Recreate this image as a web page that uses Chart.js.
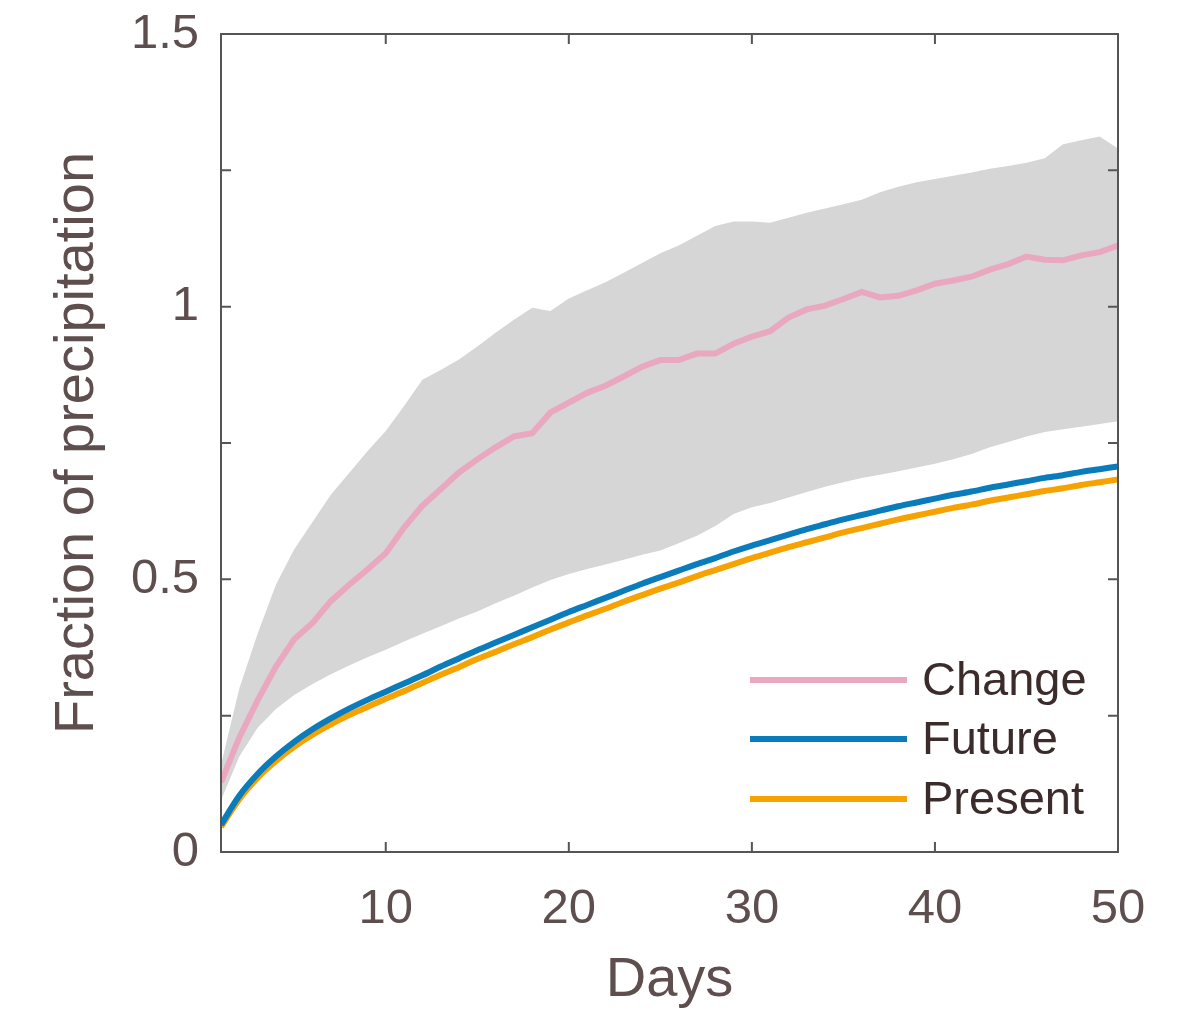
<!DOCTYPE html>
<html>
<head>
<meta charset="utf-8">
<script src="https://cdn.jsdelivr.net/npm/chart.js@4.4.1/dist/chart.umd.min.js"></script>
<style>
  html, body { margin: 0; padding: 0; background: #fff; }
  #wrap { width: 1185px; height: 1014px; }
</style>
</head>
<body>
<div id="wrap"><canvas id="precipChart" width="1185" height="1014"></canvas></div>
<script>
// days after the event
const days = [1, 2, 3, 4, 5, 6, 7, 8, 9, 10, 11, 12, 13, 14, 15, 16, 17, 18, 19, 20,
  21, 22, 23, 24, 25, 26, 27, 28, 29, 30, 31, 32, 33, 34, 35, 36, 37, 38, 39, 40,
  41, 42, 43, 44, 45, 46, 47, 48, 49, 50];

const changeValues = [0.128, 0.210, 0.278, 0.340, 0.390, 0.420, 0.460, 0.490, 0.518, 0.548,
  0.595, 0.635, 0.665, 0.696, 0.720, 0.742, 0.762, 0.768, 0.806, 0.824,
  0.842, 0.855, 0.872, 0.890, 0.902, 0.902, 0.914, 0.914, 0.932, 0.945,
  0.955, 0.980, 0.995, 1.002, 1.014, 1.027, 1.017, 1.020, 1.030, 1.042,
  1.048, 1.055, 1.068, 1.078, 1.092, 1.086, 1.085, 1.094, 1.100, 1.112];

const changeUpper = [0.160, 0.300, 0.400, 0.490, 0.555, 0.605, 0.655, 0.695, 0.735, 0.772,
  0.818, 0.866, 0.884, 0.903, 0.927, 0.952, 0.976, 0.998, 0.992, 1.015,
  1.030, 1.045, 1.062, 1.080, 1.098, 1.112, 1.130, 1.148, 1.156, 1.156,
  1.154, 1.163, 1.172, 1.180, 1.188, 1.196, 1.210, 1.220, 1.228, 1.234,
  1.240, 1.246, 1.253, 1.258, 1.264, 1.272, 1.298, 1.305, 1.312, 1.290];

const changeLower = [0.095, 0.175, 0.228, 0.262, 0.288, 0.308, 0.326, 0.342, 0.357, 0.371,
  0.386, 0.400, 0.414, 0.428, 0.441, 0.456, 0.470, 0.485, 0.499, 0.510,
  0.519, 0.527, 0.536, 0.545, 0.553, 0.566, 0.580, 0.598, 0.620, 0.632,
  0.640, 0.650, 0.660, 0.670, 0.678, 0.686, 0.692, 0.698, 0.705, 0.712,
  0.720, 0.730, 0.742, 0.752, 0.762, 0.770, 0.775, 0.780, 0.785, 0.790];

const futureValues = [0.050, 0.103, 0.143, 0.175, 0.202, 0.225, 0.245, 0.263, 0.279, 0.294,
  0.309, 0.324, 0.340, 0.355, 0.370, 0.384, 0.398, 0.412, 0.426, 0.440,
  0.453, 0.466, 0.479, 0.492, 0.504, 0.516, 0.528, 0.539, 0.551, 0.562,
  0.572, 0.582, 0.592, 0.601, 0.610, 0.618, 0.626, 0.634, 0.641, 0.648,
  0.655, 0.661, 0.668, 0.674, 0.680, 0.686, 0.691, 0.697, 0.702, 0.707];

const presentValues = [0.046, 0.097, 0.136, 0.167, 0.193, 0.215, 0.234, 0.251, 0.266, 0.281,
  0.295, 0.310, 0.325, 0.339, 0.354, 0.367, 0.381, 0.394, 0.408, 0.421,
  0.434, 0.446, 0.459, 0.471, 0.483, 0.494, 0.506, 0.517, 0.528, 0.539,
  0.549, 0.559, 0.568, 0.577, 0.586, 0.594, 0.602, 0.610, 0.617, 0.624,
  0.631, 0.637, 0.644, 0.650, 0.656, 0.662, 0.667, 0.673, 0.678, 0.683];

const xTicks = [10, 20, 30, 40, 50];
const yTicks = [0, 0.25, 0.5, 0.75, 1, 1.25, 1.5];
const yTickLabels = ['0', '', '0.5', '', '1', '', '1.5'];

const FONT = "'Liberation Sans', Arial, Helvetica, sans-serif";
const textColor = '#5e4e4e';
const axisColor = '#555555';

function pts(values) {
  return days.map((d, i) => ({ x: d, y: values[i] }));
}

// box around the plot with ticks pointing inwards on all four sides
const boxTicks = {
  id: 'boxTicks',
  afterDatasetsDraw(chart) {
    const { ctx, chartArea: a, scales: { x, y } } = chart;
    const len = 10;
    ctx.save();
    ctx.strokeStyle = axisColor;
    ctx.lineWidth = 2;
    ctx.beginPath();
    x.ticks.forEach(t => {
      const px = x.getPixelForValue(t.value);
      ctx.moveTo(px, a.bottom); ctx.lineTo(px, a.bottom - len);
      ctx.moveTo(px, a.top); ctx.lineTo(px, a.top + len);
    });
    y.ticks.forEach(t => {
      const py = y.getPixelForValue(t.value);
      ctx.moveTo(a.left, py); ctx.lineTo(a.left + len, py);
      ctx.moveTo(a.right, py); ctx.lineTo(a.right - len, py);
    });
    ctx.stroke();
    ctx.strokeRect(a.left, a.top, a.right - a.left, a.bottom - a.top);
    ctx.restore();
  }
};

// legend in the lower right corner of the plot
const cornerLegend = {
  id: 'cornerLegend',
  afterDraw(chart) {
    const { ctx, chartArea: a } = chart;
    const items = chart.data.datasets.filter(ds => ds.inLegend);
    const lineStart = a.right - 368, lineEnd = a.right - 211, textX = a.right - 196;
    const rowY = [a.bottom - 172, a.bottom - 113, a.bottom - 53];
    ctx.save();
    ctx.font = '47px ' + FONT;
    ctx.textBaseline = 'middle';
    ctx.fillStyle = '#3b2b2b';
    items.forEach((ds, i) => {
      ctx.strokeStyle = ds.borderColor;
      ctx.lineWidth = 6;
      ctx.beginPath();
      ctx.moveTo(lineStart, rowY[i]);
      ctx.lineTo(lineEnd, rowY[i]);
      ctx.stroke();
      ctx.fillText(ds.label, textX, rowY[i] + 2);
    });
    ctx.restore();
  }
};

const ctx = document.getElementById('precipChart').getContext('2d');
new Chart(ctx, {
  type: 'line',
  data: {
    datasets: [
      { label: 'Change', data: pts(changeValues), borderColor: '#e9a8bf', borderWidth: 6,
        pointRadius: 0, fill: false, tension: 0, inLegend: true },
      { label: 'Future', data: pts(futureValues), borderColor: '#0a7bbb', borderWidth: 6,
        pointRadius: 0, fill: false, tension: 0.3, inLegend: true },
      { label: 'Present', data: pts(presentValues), borderColor: '#f6a200', borderWidth: 6,
        pointRadius: 0, fill: false, tension: 0.3, inLegend: true },
      { label: 'upper', data: pts(changeUpper), borderWidth: 0, borderColor: 'rgba(0,0,0,0)',
        backgroundColor: '#d6d6d6', pointRadius: 0, fill: '+1', tension: 0 },
      { label: 'lower', data: pts(changeLower), borderWidth: 0, borderColor: 'rgba(0,0,0,0)',
        pointRadius: 0, fill: false, tension: 0 }
    ]
  },
  options: {
    responsive: false,
    animation: false,
    devicePixelRatio: 1,
    layout: { padding: { left: 0, right: 67, top: 34, bottom: 0 } },
    plugins: { legend: { display: false }, tooltip: { enabled: false } },
    scales: {
      x: {
        type: 'linear', min: 1, max: 50,
        afterBuildTicks: s => { s.ticks = xTicks.map(v => ({ value: v })); },
        afterFit: s => { s.height = 162; s.paddingLeft = 0; s.paddingRight = 0; },
        grid: { display: false, drawTicks: false },
        border: { display: false },
        ticks: { color: textColor, font: { family: FONT, size: 49 }, padding: 28,
          maxRotation: 0, autoSkip: false },
        title: { display: true, text: 'Days', color: textColor,
          font: { family: FONT, size: 56 }, padding: { top: 0, bottom: 0 } }
      },
      y: {
        min: 0, max: 1.5,
        afterBuildTicks: s => { s.ticks = yTicks.map(v => ({ value: v })); },
        afterFit: s => { s.width = 221; s.paddingTop = 0; s.paddingBottom = 0; },
        grid: { display: false, drawTicks: false },
        border: { display: false },
        ticks: { color: textColor, font: { family: FONT, size: 49 }, padding: 22,
          autoSkip: false, callback: (v, i) => yTickLabels[i] },
        title: { display: true, text: 'Fraction of precipitation', color: textColor,
          font: { family: FONT, size: 56 }, padding: { top: 44, bottom: 0 } }
      }
    }
  },
  plugins: [boxTicks, cornerLegend]
});
</script>
</body>
</html>
